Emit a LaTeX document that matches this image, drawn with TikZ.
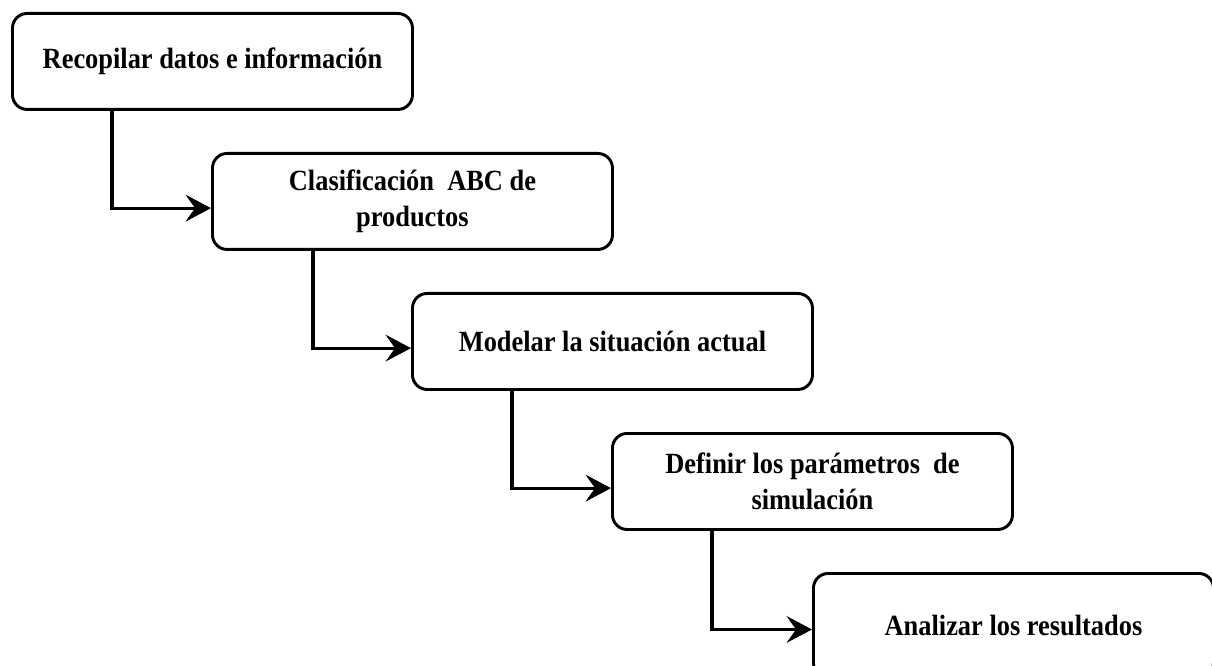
\documentclass[tikz,border=0pt]{standalone}
\usepackage{fontspec}
\setmainfont[FakeStretch=0.9]{Liberation Serif}
\usetikzlibrary{arrows.meta}
\begin{document}
\begin{tikzpicture}[x=0.75pt,y=-0.75pt,
  stepbox/.style={draw=black, line width=2.2pt, rounded corners=11pt,
    minimum width=300pt, minimum height=72pt, anchor=north west,
    align=center, inner sep=0pt,
    font=\fontsize{22}{27}\selectfont\bfseries},
  flow/.style={line width=2.4pt,
    -{Stealth[length=19pt,width=20pt,inset=7pt]}}]
\useasboundingbox (0,0) rectangle (1212,666);
\clip (0,0) rectangle (1212,666);
\node[stepbox] (b1) at (11,12) {Recopilar datos e información};
\node[stepbox] (b2) at (211,152) {Clasificación~ ABC de\\productos};
\node[stepbox] (b3) at (411,292) {Modelar la situación actual};
\node[stepbox] (b4) at (611,432) {Definir los parámetros~ de\\simulación};
\node[stepbox, minimum height=78pt] (b5) at (812,572) {\raisebox{-3pt}{Analizar los resultados}};
\draw[flow] (b1.south west) ++(101,0) |- ([yshift=-5pt]b2.west);
\draw[flow] (b2.south west) ++(102,0) |- ([yshift=-5pt]b3.west);
\draw[flow] (b3.south west) ++(101,0) |- ([yshift=-5pt]b4.west);
\draw[flow] (b4.south west) ++(101,0) |- ([yshift=-3pt]b5.west);
\end{tikzpicture}
\end{document}
